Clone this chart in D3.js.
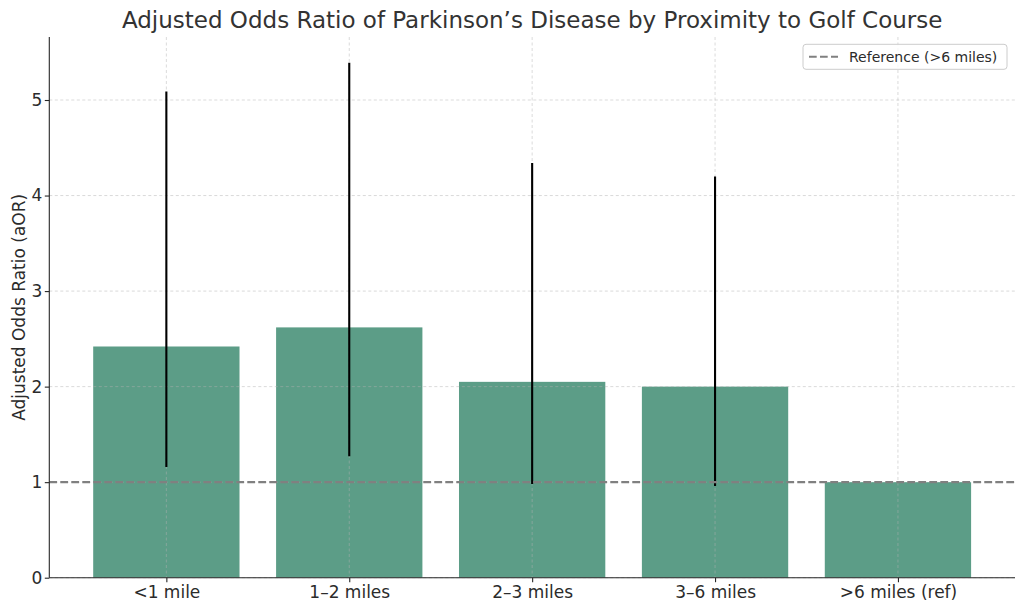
<!DOCTYPE html>
<html>
<head>
<meta charset="utf-8">
<script src="https://cdn.jsdelivr.net/npm/d3@7"></script>
<style>
  body { margin: 0; background: #fff; }
  svg { display: block; font-family: "DejaVu Sans", sans-serif; }
</style>
</head>
<body>
<div class="chart"></div>
<script>

// values
var categories = ["<1 mile", "1–2 miles", "2–3 miles", "3–6 miles", ">6 miles (ref)"];
var aor = [2.42, 2.62, 2.05, 2.00, 1.00];
var ciLow = [1.16, 1.27, 0.98, 0.96, null];
var ciHigh = [5.09, 5.39, 4.34, 4.20, null];
var yTicks = [0, 1, 2, 3, 4, 5];
var refValue = 1;
var refLabel = "Reference (>6 miles)";

var width = 1024;
var height = 611;
var margin = { top: 37, right: 9, bottom: 33.3, left: 49.3 };
var plotW = width - margin.left - margin.right;
var plotH = height - margin.top - margin.bottom;

var svg = d3.select('.chart')
    .append('svg')
    .attr('width', width)
    .attr('height', height);

var g = svg.append('g')
    .attr("transform", "translate(" + margin.left + "," + margin.top + ")");

// matplotlib-like: bar positions 0..n-1, width 0.8, 5% margins
var n = categories.length;
var scaleX = d3.scaleLinear()
    .domain([-0.4 - 0.05 * (n - 0.2), n - 1 + 0.4 + 0.05 * (n - 0.2)])
    .range([0, plotW]);

var yMax = d3.max(ciHigh.concat(aor)) * 1.05;
var scaleY = d3.scaleLinear()
    .domain([0, yMax])
    .range([plotH, 0]);

var barColor = "#5c9d87";

// bars
g.selectAll('rect.bar')
    .data(aor)
    .enter()
    .append('rect')
    .attr('class', 'bar')
    .attr('x', (d, i) => scaleX(i - 0.4))
    .attr('width', scaleX(0.4) - scaleX(-0.4))
    .attr('y', d => scaleY(d))
    .attr('height', d => scaleY(0) - scaleY(d))
    .attr('fill', barColor);

// grid over bars
var grid = g.append('g').attr('class', 'grid');
grid.selectAll('line.gy')
    .data(yTicks)
    .enter()
    .append('line')
    .attr('x1', 0)
    .attr('x2', plotW)
    .attr('y1', d => scaleY(d))
    .attr('y2', d => scaleY(d))
    .attr('stroke', '#b0b0b0')
    .attr('stroke-opacity', 0.6)
    .attr('stroke-width', 0.8)
    .attr('stroke-dasharray', '3,2.5');

grid.selectAll('line.gx')
    .data(categories)
    .enter()
    .append('line')
    .attr('x1', (d, i) => scaleX(i))
    .attr('x2', (d, i) => scaleX(i))
    .attr('y1', 0)
    .attr('y2', plotH)
    .attr('stroke', '#b0b0b0')
    .attr('stroke-opacity', 0.6)
    .attr('stroke-width', 0.8)
    .attr('stroke-dasharray', '3,2.5');

// error bars
var errData = aor.map((d, i) => ({ i: i, lo: ciLow[i], hi: ciHigh[i] }))
    .filter(d => d.lo != null);

g.selectAll('line.err')
    .data(errData)
    .enter()
    .append('line')
    .attr('x1', d => scaleX(d.i))
    .attr('x2', d => scaleX(d.i))
    .attr('y1', d => scaleY(d.lo))
    .attr('y2', d => scaleY(d.hi))
    .attr('stroke', '#000')
    .attr('stroke-width', 2.1);

// reference line
g.append('line')
    .attr('x1', 0)
    .attr('x2', plotW)
    .attr('y1', scaleY(refValue))
    .attr('y2', scaleY(refValue))
    .attr('stroke', '#808080')
    .attr('stroke-width', 2.1)
    .attr('stroke-dasharray', '7.7,3.3');

// axes
var axisX = d3.axisBottom(scaleX)
    .tickValues(d3.range(n))
    .tickFormat(i => categories[i])
    .tickSize(4.5)
    .tickPadding(4);

var axisY = d3.axisLeft(scaleY)
    .tickValues(yTicks)
    .tickFormat(d3.format('d'))
    .tickSize(4.5)
    .tickPadding(2.5);

var gx = g.append('g')
    .attr('transform', 'translate(0,' + plotH + ')')
    .call(axisX);

var gy = g.append('g')
    .call(axisY);

[gx, gy].forEach(a => {
    a.select('.domain').attr('stroke', '#262626').attr('stroke-width', 1.1);
    a.selectAll('.tick line').attr('stroke', '#262626').attr('stroke-width', 1.1);
    a.selectAll('.tick text')
        .attr('fill', '#2b2b2b')
        .style('font-size', '17px')
        .style('font-family', '"DejaVu Sans", sans-serif');
});
gx.select('.domain').attr('d', 'M0,0H' + plotW);
gy.select('.domain').attr('d', 'M0,' + plotH + 'V0');

// y label
svg.append("text")
    .attr("transform", "rotate(-90)")
    .attr("x", -(margin.top + plotH / 2))
    .attr("y", 25)
    .style("text-anchor", "middle")
    .style("font-size", "17px")
    .attr("fill", "#2b2b2b")
    .text("Adjusted Odds Ratio (aOR)");

// title
svg.append("text")
    .attr("x", margin.left + plotW / 2)
    .attr("y", 27.5)
    .style("text-anchor", "middle")
    .style("font-size", "23px")
    .attr("fill", "#333")
    .text("Adjusted Odds Ratio of Parkinson’s Disease by Proximity to Golf Course");

// legend
var legend = svg.append('g')
    .attr('transform', 'translate(803,44.3)');

legend.append('rect')
    .attr('width', 204)
    .attr('height', 25)
    .attr('rx', 3)
    .attr('fill', '#fff')
    .attr('fill-opacity', 0.8)
    .attr('stroke', '#cccccc')
    .attr('stroke-width', 1);

legend.append('line')
    .attr('x1', 6)
    .attr('x2', 35)
    .attr('y1', 12.5)
    .attr('y2', 12.5)
    .attr('stroke', '#808080')
    .attr('stroke-width', 2.1)
    .attr('stroke-dasharray', '7.7,3.3');

legend.append('text')
    .attr('x', 46)
    .attr('y', 17.5)
    .style('font-size', '14px')
    .attr('fill', '#2b2b2b')
    .text(refLabel);

</script>
</body>
</html>
